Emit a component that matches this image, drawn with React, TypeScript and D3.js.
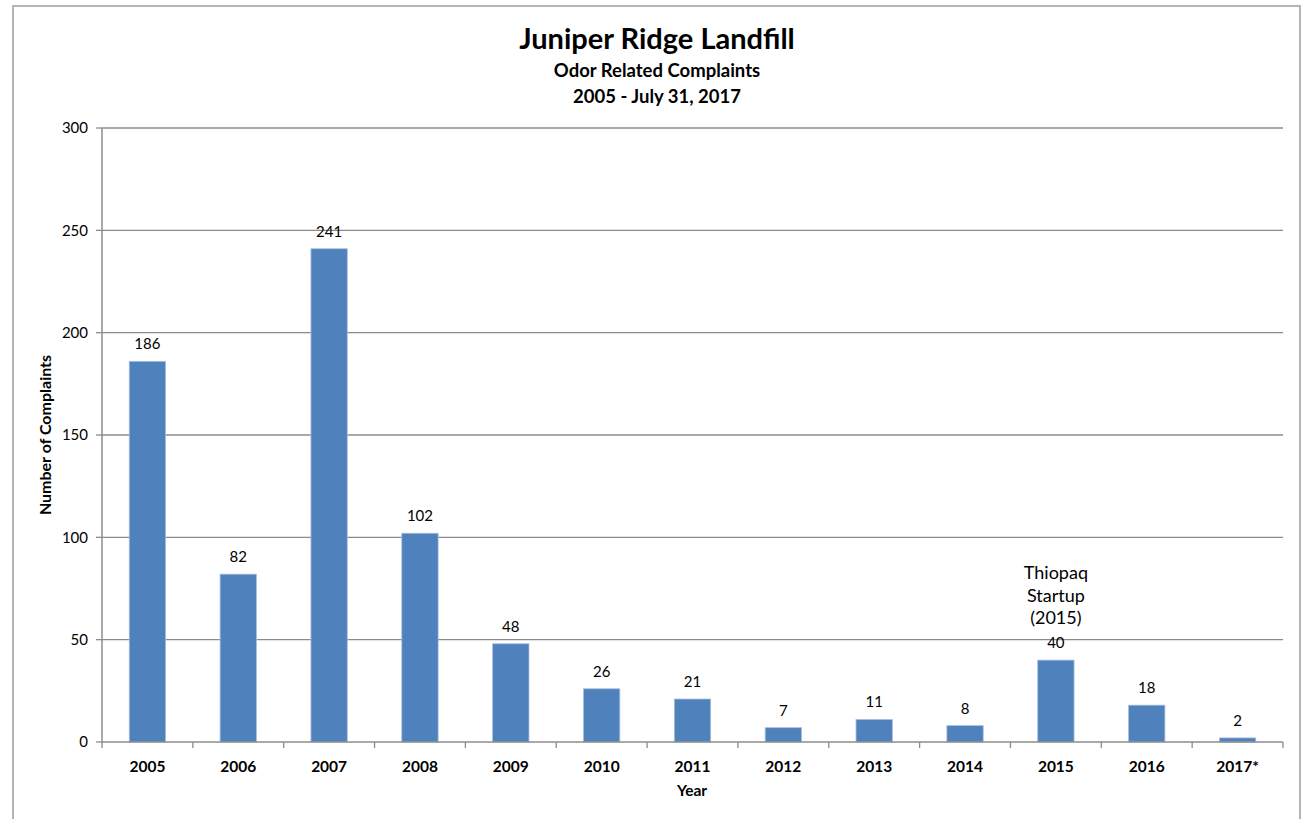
import { scaleBand, scaleLinear } from "d3"

const years = ["2005", "2006", "2007", "2008", "2009", "2010", "2011", "2012", "2013", "2014", "2015", "2016", "2017*"]
const complaints = [186, 82, 241, 102, 48, 26, 21, 7, 11, 8, 40, 18, 2]
const yTicks = [0, 50, 100, 150, 200, 250, 300]
const noteLines = ["Thiopaq", "Startup", "(2015)"]

const W = 1303
const H = 819
const plot = { left: 102, right: 1283, top: 128, bottom: 742 }
const font = "Lato, 'Open Sans', sans-serif"

export default function App() {
  const x = scaleBand<string>().domain(years).range([plot.left, plot.right]).paddingInner(0.6).paddingOuter(0.3)
  const band = scaleBand<string>().domain(years).range([plot.left, plot.right])
  const y = scaleLinear().domain([0, 300]).range([plot.bottom, plot.top])

  const noteX = (x("2015") ?? 0) + x.bandwidth() / 2

  return (
    <svg
      width={W}
      height={H}
      style={{ position: "absolute", left: 0, top: 0, display: "block", background: "#fff" }}
      fontFamily={font}
    >
      {/* frame */}
      <rect x={13} y={6} width={1287} height={820} fill="none" stroke="#b4b4b4" strokeWidth={2} />

      {/* titles */}
      <text x={657} y={49} textAnchor="middle" fontSize={29} fontWeight="bold" fill="#000">
        Juniper Ridge Landfill
      </text>
      <text x={657} y={77} textAnchor="middle" fontSize={18.5} fontWeight="bold" fill="#000">
        Odor Related Complaints
      </text>
      <text x={657} y={103} textAnchor="middle" fontSize={18.5} fontWeight="bold" fill="#000">
        2005 - July 31, 2017
      </text>

      {/* grid + y ticks */}
      {yTicks.map((t) => (
        <g key={t}>
          {t > 0 && (
            <line x1={plot.left} x2={plot.right} y1={y(t)} y2={y(t)} stroke="#8c8c8c" strokeWidth={1.3} />
          )}
          <line x1={plot.left - 6} x2={plot.left} y1={y(t)} y2={y(t)} stroke="#8c8c8c" strokeWidth={1.3} />
          <text x={plot.left - 14} y={y(t)} dy="0.35em" textAnchor="end" fontSize={15} fill="#000">
            {t}
          </text>
        </g>
      ))}

      {/* bars */}
      {years.map((yr, i) => (
        <g key={yr}>
          <rect
            x={x(yr)}
            y={y(complaints[i])}
            width={x.bandwidth()}
            height={plot.bottom - y(complaints[i])}
            fill="#4f81bd"
            stroke="#a7bfde"
            strokeWidth={0.8}
          />
          <text
            x={(x(yr) ?? 0) + x.bandwidth() / 2}
            y={y(complaints[i]) - 12}
            textAnchor="middle"
            fontSize={15}
            fill="#000"
          >
            {complaints[i]}
          </text>
        </g>
      ))}

      {/* axes */}
      <line x1={plot.left} x2={plot.left} y1={plot.top} y2={plot.bottom} stroke="#8c8c8c" strokeWidth={1.5} />
      <line x1={plot.left} x2={plot.right} y1={plot.bottom} y2={plot.bottom} stroke="#8c8c8c" strokeWidth={1.5} />
      {[...years.map((yr) => band(yr) ?? 0), plot.right].map((px, i) => (
        <line key={i} x1={px} x2={px} y1={plot.bottom} y2={plot.bottom + 6} stroke="#8c8c8c" strokeWidth={1.3} />
      ))}
      {years.map((yr) => (
        <text
          key={yr}
          x={(band(yr) ?? 0) + band.bandwidth() / 2}
          y={772}
          textAnchor="middle"
          fontSize={15.5}
          fontWeight="bold"
          fill="#000"
        >
          {yr}
        </text>
      ))}

      {/* axis titles */}
      <text x={692} y={796} textAnchor="middle" fontSize={15.5} fontWeight="bold" fill="#000">
        Year
      </text>
      <text
        transform={`translate(51,435) rotate(-90)`}
        textAnchor="middle"
        fontSize={16}
        fontWeight="bold"
        fill="#000"
      >
        Number of Complaints
      </text>

      {/* annotation */}
      {noteLines.map((l, i) => (
        <text key={l} x={noteX} y={573 + i * 22.5} dy="0.35em" textAnchor="middle" fontSize={18} fill="#000">
          {l}
        </text>
      ))}
    </svg>
  )
}
